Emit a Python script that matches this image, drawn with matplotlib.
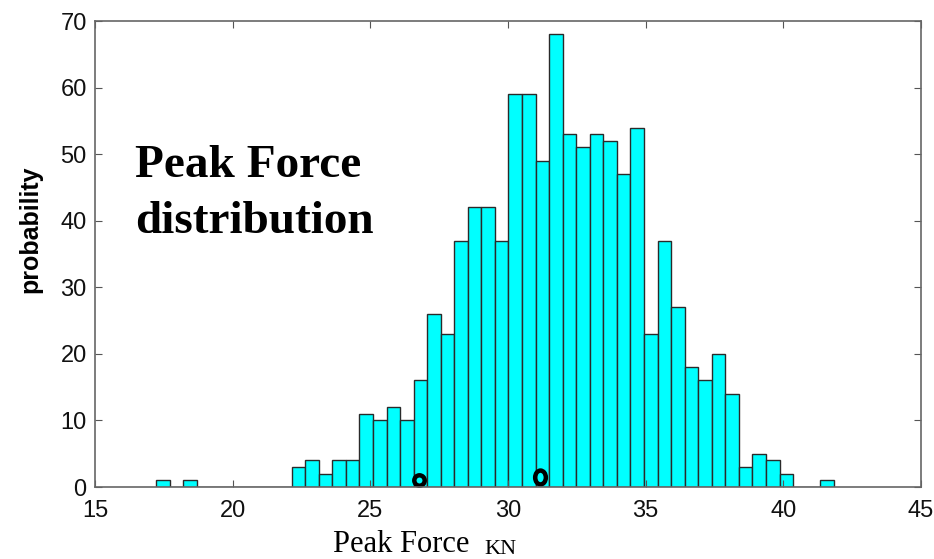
import numpy as np
import matplotlib
matplotlib.use("Agg")
import matplotlib.pyplot as plt
from matplotlib.path import Path
from matplotlib.transforms import Affine2D

# histogram of peak force, 50 bins between the smallest and largest sample
bin_lo = 17.22
bin_hi = 41.83
n_bins = 50
counts = [1, 0, 1, 0, 0, 0, 0, 0, 0, 0,
          3, 4, 2, 4, 4, 11, 10, 12, 10, 16,
          26, 23, 37, 42, 42, 37, 59, 59, 49, 68,
          53, 51, 53, 52, 47, 54, 23, 37, 27, 18,
          16, 20, 14, 3, 5, 4, 2, 0, 0, 1]

# the two black circles near the base
circle_x = [26.77, 31.16]
circle_y = [1.05, 1.55]

x_ticks = [15, 20, 25, 30, 35, 40, 45]
y_ticks = [0, 10, 20, 30, 40, 50, 60, 70]


def main():
    fig = plt.figure(figsize=(9.34, 5.59), dpi=100)
    ax = fig.add_axes([0.1017, 0.1288, 0.8844, 0.8336])

    edges = np.linspace(bin_lo, bin_hi, n_bins + 1)
    ax.bar(edges[:-1], counts, width=np.diff(edges), align="edge",
           color="#00FFFF", edgecolor="#2a2a2a", linewidth=1.0)

    ax.plot(circle_x[0], circle_y[0], "o", ms=7.5, mew=3.2,
            mec="black", mfc="none")
    oval = Path.unit_circle().transformed(Affine2D().scale(1.0, 1.3))
    ax.plot(circle_x[1], circle_y[1], marker=oval, ls="none", ms=10,
            mew=3.2, mec="black", mfc="none")

    ax.set_xlim(15, 45)
    ax.set_ylim(0, 70)
    ax.set_xticks(x_ticks)
    ax.set_yticks(y_ticks)
    ax.tick_params(direction="in", length=5, color="#555555",
                   top=True, right=True, labelsize=17, labelcolor="#111111")
    ax.tick_params(axis="x", pad=9)
    ax.tick_params(axis="y", pad=6)
    for lab in ax.get_xticklabels() + ax.get_yticklabels():
        lab.set_fontfamily("Liberation Sans")
    for s in ax.spines.values():
        s.set_color("#666666")
        s.set_linewidth(1.2)

    # annotation inside the plot
    ax.text(0.0484, 0.666, "Peak Force", transform=ax.transAxes,
            family="Liberation Serif", fontweight="bold", fontsize=34,
            va="baseline", ha="left")
    ax.text(0.0484, 0.545, "distribution", transform=ax.transAxes,
            family="Liberation Serif", fontweight="bold", fontsize=34,
            va="baseline", ha="left")

    # axis labels
    fig.text(30 / 934, 1 - 229 / 559, "probability", rotation=90,
             family="Liberation Sans", fontweight="bold", fontsize=18,
             ha="center", va="center")
    fig.text(333 / 934, 1 - 551.7 / 559, "Peak Force",
             family="Liberation Serif", fontsize=22, va="baseline", ha="left")
    fig.text(484 / 934, 1 - 554 / 559, "KN",
             family="Liberation Serif", fontsize=16, va="baseline", ha="left")

    fig.savefig("out.png", dpi=100)


if __name__ == "__main__":
    main()
